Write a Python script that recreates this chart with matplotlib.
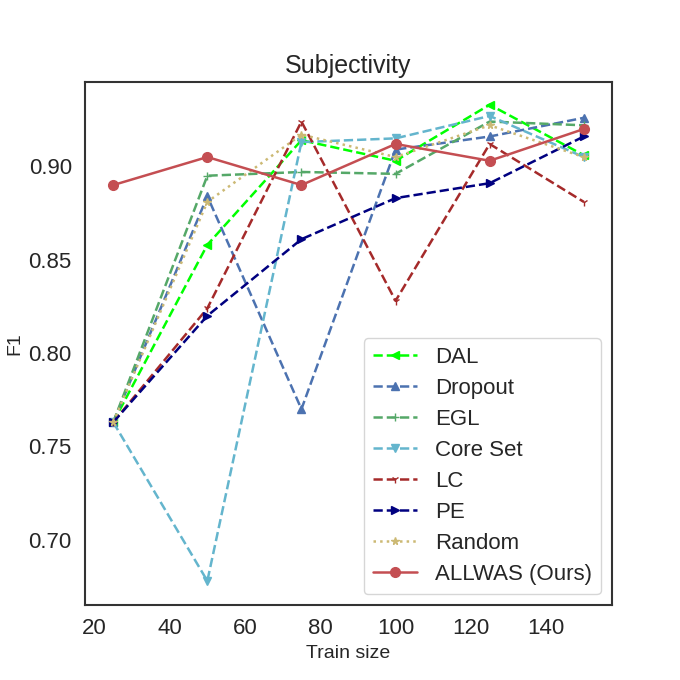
import matplotlib
matplotlib.use("Agg")
import matplotlib.pyplot as plt
import seaborn as sns

sns.set_theme(style="white")
plt.rcParams['font.family'] = ['Liberation Sans', 'DejaVu Sans']

train_size = [25, 50, 75, 100, 125, 150]

dal = [0.763, 0.858, 0.914, 0.903, 0.933, 0.906]
dropout = [0.763, 0.884, 0.770, 0.909, 0.916, 0.926]
egl = [0.763, 0.895, 0.897, 0.896, 0.924, 0.922]
core_set = [0.763, 0.678, 0.913, 0.915, 0.927, 0.905]
lc = [0.763, 0.824, 0.924, 0.828, 0.912, 0.881]
pe = [0.763, 0.820, 0.861, 0.883, 0.891, 0.916]
random_f1 = [0.763, 0.881, 0.917, 0.905, 0.922, 0.905]
allwas = [0.890, 0.905, 0.890, 0.912, 0.903, 0.920]

series = [
    ("DAL", dal, "#00ff00", "<", "--"),
    ("Dropout", dropout, "#4C72B0", "^", "--"),
    ("EGL", egl, "#55A868", "+", "--"),
    ("Core Set", core_set, "#64B5CD", "v", "--"),
    ("LC", lc, "#A52A2A", "1", "--"),
    ("PE", pe, "#000080", ">", "--"),
    ("Random", random_f1, "#CCB974", "*", ":"),
    ("ALLWAS (Ours)", allwas, "#C44E52", "o", "-"),
]

fig, ax = plt.subplots(figsize=(6.8, 6.8), dpi=100)
for name, vals, color, marker, ls in series:
    ms = 7 if marker == "o" else 5.5
    ax.plot(train_size, vals, color=color, marker=marker, linestyle=ls,
            linewidth=1.8, markersize=ms, label=name)

ax.set_title("Subjectivity", fontsize=18)
ax.set_xlabel("Train size", fontsize=14)
ax.set_ylabel("F1", fontsize=14)
ax.set_xticks([20, 40, 60, 80, 100, 120, 140])
ax.set_yticks([0.70, 0.75, 0.80, 0.85, 0.90])
ax.tick_params(labelsize=16)
ax.set_xlim(17.5, 157.5)
ax.set_ylim(0.665, 0.9454)
for sp in ax.spines.values():
    sp.set_color("#333333")
    sp.set_linewidth(1.5)
ax.legend(loc="lower right", fontsize=16, labelspacing=0.45)

fig.savefig("out.png")
